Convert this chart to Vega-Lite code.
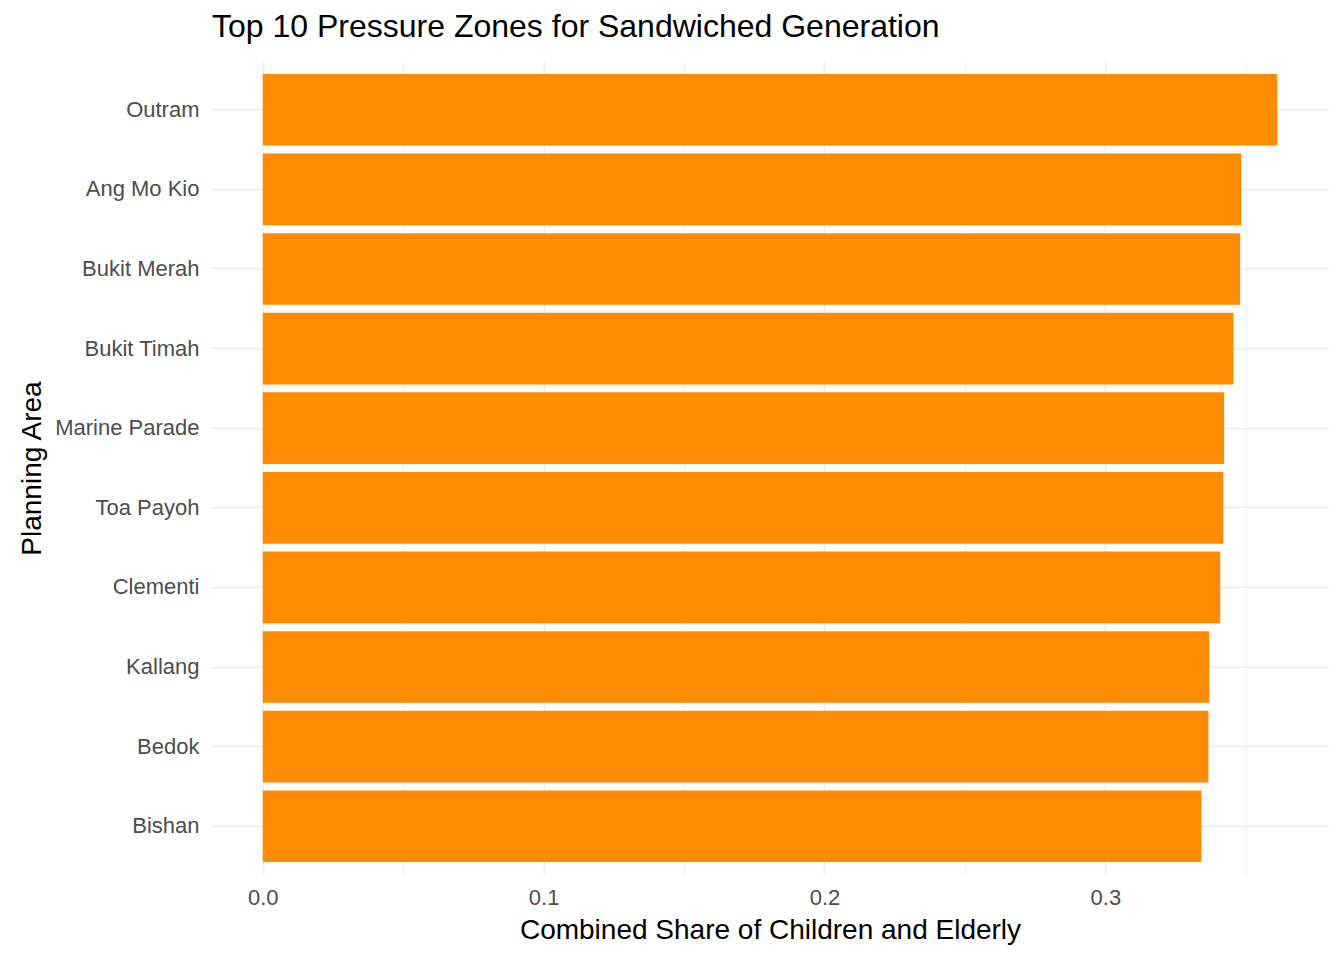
{
  "$schema": "https://vega.github.io/schema/vega-lite/v6.json",
  "width": 1116,
  "height": 812,
  "autosize": {"type": "none"},
  "padding": {"left": 212, "top": 62, "right": 16, "bottom": 86},
  "background": "white",
  "title": {
    "text": "Top 10 Pressure Zones for Sandwiched Generation",
    "anchor": "start",
    "frame": "group",
    "offset": 18,
    "fontSize": 32,
    "fontWeight": "normal",
    "color": "black",
    "font": "Liberation Sans"
  },
  "data": {
    "values": [
      {"area": "Outram", "share": 0.3612},
      {"area": "Ang Mo Kio", "share": 0.3484},
      {"area": "Bukit Merah", "share": 0.3480},
      {"area": "Bukit Timah", "share": 0.3456},
      {"area": "Marine Parade", "share": 0.3423},
      {"area": "Toa Payoh", "share": 0.3420},
      {"area": "Clementi", "share": 0.3409},
      {"area": "Kallang", "share": 0.3370},
      {"area": "Bedok", "share": 0.3367},
      {"area": "Bishan", "share": 0.3342}
    ]
  },
  "mark": {"type": "bar", "color": "#FF8C00"},
  "encoding": {
    "y": {
      "field": "area",
      "type": "nominal",
      "sort": null,
      "title": "Planning Area",
      "scale": {"paddingInner": 0.1, "paddingOuter": 0.15},
      "axis": {
        "labelPadding": 13,
        "titlePadding": 8
      }
    },
    "x": {
      "field": "share",
      "type": "quantitative",
      "title": "Combined Share of Children and Elderly",
      "scale": {"domain": [-0.01806, 0.37926], "nice": false, "zero": false},
      "axis": {
        "values": [0, 0.05, 0.1, 0.15, 0.2, 0.25, 0.3, 0.35],
        "labelExpr": "abs(datum.value*10 - round(datum.value*10)) < 0.001 ? format(datum.value, '.1f') : ''",
        "gridWidth": {"condition": {"test": "abs(datum.value*10 - round(datum.value*10)) < 0.001", "value": 1.4}, "value": 0.7},
        "labelPadding": 13,
        "titlePadding": 8
      }
    }
  },
  "config": {
    "view": {"stroke": null},
    "font": "Liberation Sans",
    "axis": {
      "grid": true,
      "gridColor": "#ebebeb",
      "domain": false,
      "ticks": false,
      "labelFont": "Liberation Sans",
      "labelFontSize": 22,
      "labelColor": "#4d4d4d",
      "titleFont": "Liberation Sans",
      "titleFontSize": 28,
      "titleFontWeight": "normal",
      "titleColor": "black"
    },
    "axisY": {"gridWidth": 1.4}
  }
}
